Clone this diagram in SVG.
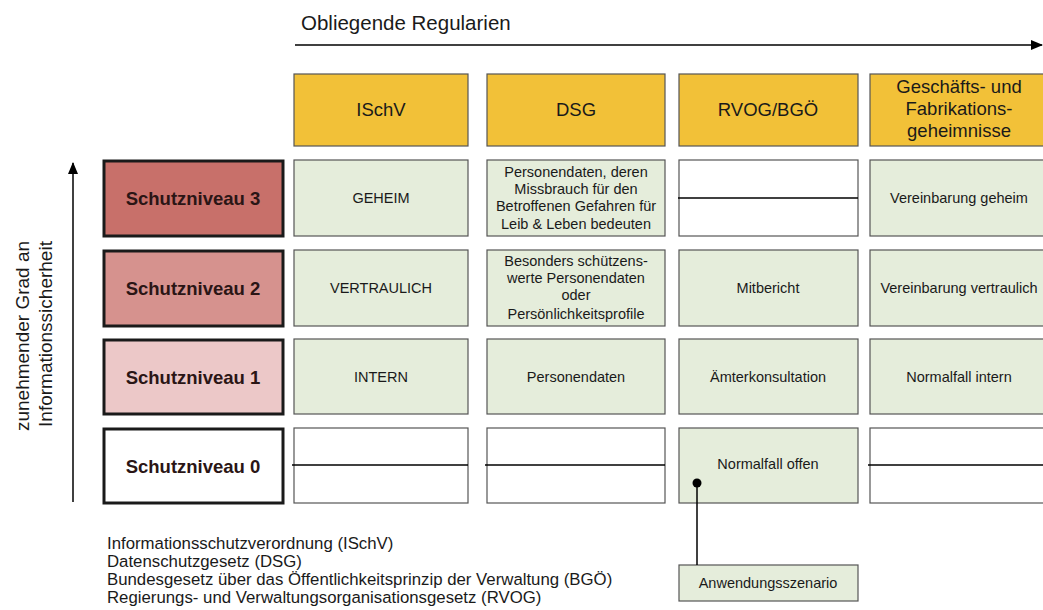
<svg xmlns="http://www.w3.org/2000/svg" width="1043" height="610" viewBox="0 0 1043 610">
<defs>
<marker id="ah" markerWidth="12" markerHeight="10" refX="11" refY="5" orient="auto" markerUnits="userSpaceOnUse" viewBox="0 0 12 10">
<path d="M0,0 L12,5 L0,10 z" fill="#000"/>
</marker>
<style>
text{font-family:"Liberation Sans",Arial,sans-serif;fill:#1a1a1a}
.hd{fill:#f2c138;stroke:#555;stroke-width:1.2}
.cell{fill:#e5eddb;stroke:#555;stroke-width:1.2}
.empty{fill:#fff;stroke:#555;stroke-width:1.2}
.lvl{stroke:#1a1a1a;stroke-width:3}
.ht{font-size:18.5px;text-anchor:middle}
.ct{font-size:14.5px;text-anchor:middle}
.lt{font-size:18.5px;font-weight:bold;text-anchor:middle;fill:#2a1515}
.bt{font-size:16.8px}
.ln{stroke:#000;stroke-width:1.5;fill:none}
</style>
</defs>
<rect width="1043" height="610" fill="#fff"/>

<g id="axes">
<text x="301" y="30" style="font-size:20.5px">Obliegende Regularien</text>
<line class="ln" x1="295" y1="45" x2="1042" y2="45" marker-end="url(#ah)"/>
<line class="ln" x1="73" y1="502" x2="73" y2="163" marker-end="url(#ah)"/>
<text transform="translate(29,336) rotate(-90)" text-anchor="middle" style="font-size:19px">zunehmender Grad an</text>
<text transform="translate(52,334) rotate(-90)" text-anchor="middle" style="font-size:19px">Informationssicherheit</text>
</g>

<g id="hdr-ischv"><rect class="hd" x="294" y="74" width="174" height="72"/><text class="ht" x="381" y="116">ISchV</text></g>
<g id="hdr-dsg"><rect class="hd" x="487" y="74" width="178" height="72"/><text class="ht" x="576" y="116">DSG</text></g>
<g id="hdr-rvog"><rect class="hd" x="679" y="74" width="179" height="72"/><text class="ht" x="768" y="116">RVOG/BGÖ</text></g>
<g id="hdr-gf"><rect class="hd" x="870" y="74" width="180" height="72"/><text class="ht" x="959" y="93">Geschäfts- und</text><text class="ht" x="959" y="115">Fabrikations-</text><text class="ht" x="959" y="137">geheimnisse</text></g>

<g id="lvl3"><rect class="lvl" x="104" y="161" width="179" height="75" fill="#c8706a"/><text class="lt" x="193" y="205">Schutzniveau 3</text></g>
<g id="lvl2"><rect class="lvl" x="104" y="251" width="179" height="75" fill="#d6928e"/><text class="lt" x="193" y="295">Schutzniveau 2</text></g>
<g id="lvl1"><rect class="lvl" x="104" y="340" width="179" height="74" fill="#ecc8c8"/><text class="lt" x="193" y="384">Schutzniveau 1</text></g>
<g id="lvl0"><rect class="lvl" x="104" y="429" width="179" height="74" fill="#fff"/><text class="lt" x="193" y="473">Schutzniveau 0</text></g>

<g id="c31"><rect class="cell" x="294" y="160" width="174" height="76"/><text class="ct" x="381" y="203">GEHEIM</text></g>
<g id="c32"><rect class="cell" x="487" y="160" width="178" height="76"/><text class="ct" x="576" y="177">Personendaten, deren</text><text class="ct" x="576" y="194">Missbrauch für den</text><text class="ct" x="576" y="211">Betroffenen Gefahren für</text><text class="ct" x="576" y="229">Leib &amp; Leben bedeuten</text></g>
<g id="c33"><rect class="empty" x="679" y="160" width="179" height="76"/><line class="ln" x1="678" y1="198" x2="858" y2="198"/></g>
<g id="c34"><rect class="cell" x="870" y="160" width="180" height="76"/><text class="ct" x="959" y="203">Vereinbarung geheim</text></g>

<g id="c21"><rect class="cell" x="294" y="250" width="174" height="76"/><text class="ct" x="381" y="293">VERTRAULICH</text></g>
<g id="c22"><rect class="cell" x="487" y="250" width="178" height="76"/><text class="ct" x="576" y="266">Besonders schützens-</text><text class="ct" x="576" y="283">werte Personendaten</text><text class="ct" x="576" y="300">oder</text><text class="ct" x="576" y="319">Persönlichkeitsprofile</text></g>
<g id="c23"><rect class="cell" x="679" y="250" width="179" height="76"/><text class="ct" x="768" y="293">Mitbericht</text></g>
<g id="c24"><rect class="cell" x="870" y="250" width="180" height="76"/><text class="ct" x="959" y="293">Vereinbarung vertraulich</text></g>

<g id="c11"><rect class="cell" x="294" y="339" width="174" height="75"/><text class="ct" x="381" y="382">INTERN</text></g>
<g id="c12"><rect class="cell" x="487" y="339" width="178" height="75"/><text class="ct" x="576" y="382">Personendaten</text></g>
<g id="c13"><rect class="cell" x="679" y="339" width="179" height="75"/><text class="ct" x="768" y="382">Ämterkonsultation</text></g>
<g id="c14"><rect class="cell" x="870" y="339" width="180" height="75"/><text class="ct" x="959" y="382">Normalfall intern</text></g>

<g id="c01"><rect class="empty" x="294" y="428" width="174" height="75"/><line class="ln" x1="292" y1="465" x2="468" y2="465"/></g>
<g id="c02"><rect class="empty" x="487" y="428" width="178" height="75"/><line class="ln" x1="485" y1="465" x2="665" y2="465"/></g>
<g id="c03"><rect class="cell" x="679" y="428" width="179" height="75"/><text class="ct" x="768" y="469">Normalfall offen</text></g>
<g id="c04"><rect class="empty" x="870" y="428" width="180" height="75"/><line class="ln" x1="868" y1="465" x2="1043" y2="465"/></g>

<g id="szenario"><rect class="cell" x="679" y="565" width="179" height="36"/><text class="ct" x="768" y="588">Anwendungsszenario</text></g>

<g id="connectors">
<line class="ln" x1="697" y1="483" x2="697" y2="565"/>
<circle cx="697" cy="483" r="4.5" fill="#000"/>
</g>

<g id="legend">
<text class="bt" x="107" y="549">Informationsschutzverordnung (ISchV)</text>
<text class="bt" x="107" y="567">Datenschutzgesetz (DSG)</text>
<text class="bt" x="107" y="585">Bundesgesetz über das Öffentlichkeitsprinzip der Verwaltung (BGÖ)</text>
<text class="bt" x="107" y="603">Regierungs- und Verwaltungsorganisationsgesetz (RVOG)</text>
</g>
</svg>
